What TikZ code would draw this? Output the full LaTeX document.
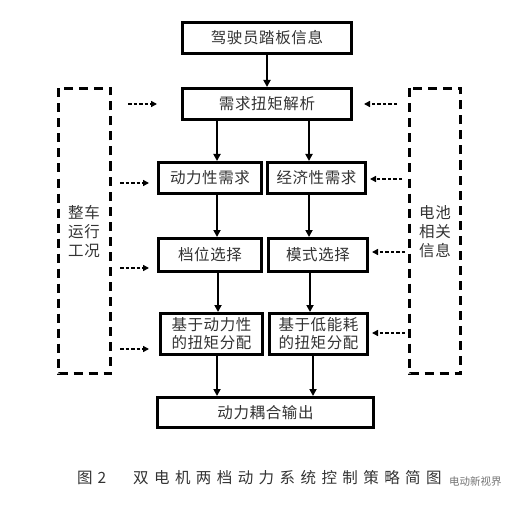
\documentclass[tikz,border=0pt]{standalone}
\usepackage{fontspec}
\setmainfont{Noto Sans CJK SC}
\newfontfamily\capfont[LetterSpace=35]{Noto Sans CJK SC}
\newfontfamily\boxfont[LetterSpace=4]{Noto Sans CJK SC}
\usetikzlibrary{arrows.meta,calc}
\definecolor{txt}{HTML}{333333}
\tikzset{
  box/.style={draw=black, line width=3pt, fill=white, inner sep=0pt, text=txt,
    font=\boxfont\fontsize{15.5}{18}\selectfont, align=center},
  arr/.style={line width=2.6pt, -{Triangle[length=7pt,width=7pt]}},
  darr/.style={line width=1.8pt, dash pattern=on 3.5pt off 2pt, -{Triangle[length=6pt,width=6pt]}},
  dbox/.style={draw=black, line width=3pt, dash pattern=on 9pt off 6pt},
  lab/.style={text=txt, font=\boxfont\fontsize{15.5}{19}\selectfont, align=center, inner sep=0pt}
}
\begin{document}
\begin{tikzpicture}[x=1pt,y=-1pt]
\useasboundingbox (0,0) rectangle (516,505);
% boxes
\node[box, minimum width=169pt, minimum height=31pt] (top) at (267,38) {驾驶员踏板信息};
\node[box, minimum width=169pt, minimum height=31pt] (dem) at (267,104) {需求扭矩解析};
\node[box, minimum width=103pt, minimum height=31pt] (dyn) at (210,178) {动力性需求};
\node[box, minimum width=98pt, minimum height=31pt] (eco) at (316.5,178) {经济性需求};
\node[box, minimum width=103pt, minimum height=33pt] (gear) at (210,255) {档位选择};
\node[box, minimum width=99pt, minimum height=33pt] (mode) at (318,255) {模式选择};
\node[box, minimum width=102pt, minimum height=41pt] (tq1) at (211.5,334) {基于动力性\\的扭矩分配};
\node[box, minimum width=98pt, minimum height=41pt] (tq2) at (318.5,334) {基于低能耗\\的扭矩分配};
\node[box, minimum width=216pt, minimum height=30pt] (out) at (265.5,412.5) {动力耦合输出};
% dashed side boxes
\draw[dbox] (58.5,88.5) rectangle (110.5,373.5);
\draw[dbox] (409.5,88.5) rectangle (460.5,373.5);
\node[lab] (lside) at (84,232) {整车\\运行\\工况};
\node[lab] (rside) at (435,232) {电池\\相关\\信息};
% solid arrows
\draw[arr] (top) -- (dem);
\draw[arr] ([xshift=-50pt]dem.south) -- ([xshift=-50pt]dem.south |- dyn.north);
\draw[arr] ([xshift=42pt]dem.south) -- ([xshift=42pt]dem.south |- eco.north);
\draw[arr] ([xshift=7pt]dyn.south) -- ([xshift=7pt]dyn.south |- gear.north);
\draw[arr] ([xshift=-7.5pt]eco.south) -- ([xshift=-7.5pt]eco.south |- mode.north);
\draw[arr] ([xshift=8pt]gear.south) -- ([xshift=8pt]gear.south |- tq1.north);
\draw[arr] ([xshift=-8pt]mode.south) -- ([xshift=-8pt]mode.south |- tq2.north);
\draw[arr] ([xshift=5.5pt]tq1.south) -- ([xshift=5.5pt]tq1.south |- out.north);
\draw[arr] ([xshift=-5.5pt]tq2.south) -- ([xshift=-5.5pt]tq2.south |- out.north);
% dashed arrows
\coordinate (L1s) at (128,104); \coordinate (L1e) at (157,104);
\coordinate (L2s) at (120,183); \coordinate (L2e) at (149,183);
\coordinate (L3s) at (120,268); \coordinate (L3e) at (149,268);
\coordinate (L4s) at (120,349); \coordinate (L4e) at (149,349);
\coordinate (R1s) at (397,104); \coordinate (R1e) at (364,104);
\coordinate (R2s) at (402,179); \coordinate (R2e) at (370,179);
\coordinate (R3s) at (405,252); \coordinate (R3e) at (372,252);
\coordinate (R4s) at (405,333); \coordinate (R4e) at (372,333);
\foreach \n in {L1,L2,L3,L4,R1,R2,R3,R4}{\draw[darr] (\n s) -- (\n e);}
% caption
\node[anchor=west, inner sep=0pt, text=txt, font=\fontsize{15.5}{15}\selectfont] (fig) at (77,478) {图\hspace{5pt}2};
\node[anchor=west, inner sep=0pt, text=txt, font=\capfont\fontsize{15.5}{15}\selectfont] (cap) at (133,478) {双电机两档动力系统控制策略简图};
\node[anchor=west, inner sep=0pt, text=black!55, font=\fontsize{10.5}{11}\selectfont] (wm) at (449,482) {电动新视界};
\end{tikzpicture}
\end{document}
